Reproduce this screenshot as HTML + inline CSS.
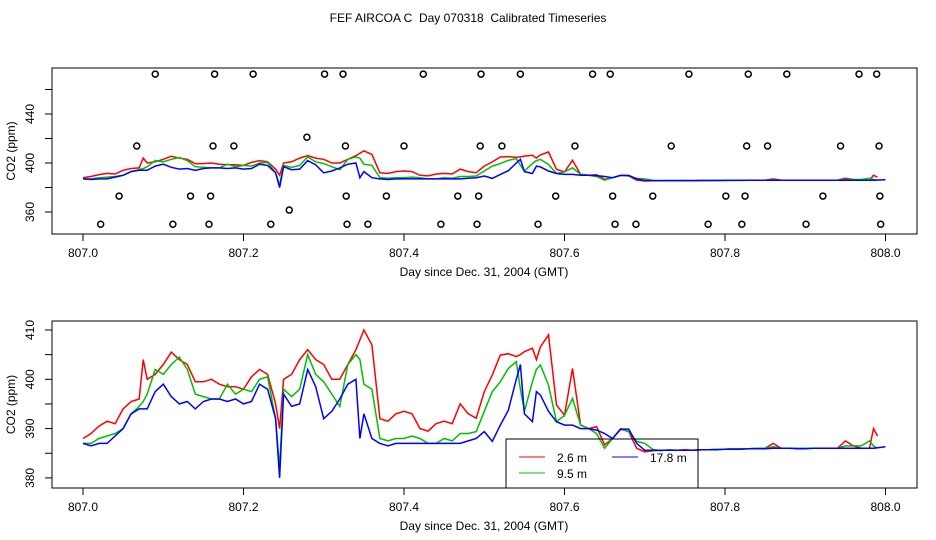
<!DOCTYPE html>
<html><head><meta charset="utf-8"><style>
body{margin:0;background:#fff;}
svg{display:block;font-family:"Liberation Sans",sans-serif;}
</style></head><body>
<svg id="chart" width="936" height="540" viewBox="0 0 936 540">
<text x="468" y="22" font-size="12" text-anchor="middle" style="white-space:pre">FEF AIRCOA C  Day 070318  Calibrated Timeseries</text>
<g id="top"></g>
<g id="bot"></g>
</svg>
<script>
const days=[807.00,807.01,807.02,807.03,807.04,807.05,807.06,807.07,807.075,807.08,807.09,807.10,807.11,807.12,807.13,807.14,807.15,807.16,807.17,807.18,807.19,807.20,807.21,807.22,807.23,807.24,807.245,807.25,807.26,807.27,807.28,807.29,807.30,807.31,807.32,807.33,807.34,807.345,807.35,807.36,807.37,807.38,807.39,807.40,807.41,807.42,807.43,807.44,807.45,807.46,807.47,807.48,807.49,807.50,807.51,807.52,807.53,807.54,807.545,807.55,807.56,807.565,807.57,807.58,807.59,807.60,807.61,807.62,807.63,807.64,807.65,807.66,807.67,807.68,807.69,807.70,807.71,807.72,807.73,807.74,807.75,807.76,807.77,807.78,807.79,807.80,807.81,807.82,807.83,807.84,807.85,807.86,807.87,807.88,807.89,807.90,807.91,807.92,807.93,807.94,807.95,807.96,807.97,807.98,807.985,807.99,808.00];
const red=[388,389,390.5,391.5,391,394,395.5,396,404,400,401,403,405.5,404,403,399.5,399.5,400,399,398.5,398.5,398,400.5,402,401,395,390,400,401,404,406,404,403,400,400,403,406,408,410,407,392,391.5,393,393.5,393,390,389.5,391,391.5,391,395,393,392.1,397.5,400.9,404.9,405.2,404.6,405,405.6,406.3,404,406.6,409,394.8,392.7,402.2,390.7,390,390.4,386.7,388,390,389.4,386,385.3,385.5,385.6,385.6,385.6,385.7,385.6,385.7,385.7,385.8,385.8,385.9,385.9,385.9,386,386,387,386,386,386,386,386,386,386,386,387.5,386.5,386,386,390,388.5,null];
const green=[387,387,388,388.5,389,390,393,394.5,395.5,397,402,401,403,404.5,402,397,396.5,396,396,399,397,398,397.5,400,400.5,392,382,398,396.5,398,405,401,399.5,397,394.5,403,405,404,399,398,388,387.5,388,388,388.5,388,387,387,388,387.5,389,389,389.4,393.5,397.5,399.5,402.2,403.6,398,393.5,399.5,402,402.9,398.8,391.4,392.7,396.1,390.7,390,389,386,388,389.9,389.4,387.4,387,385.8,385.5,385.7,385.6,385.6,385.6,385.7,385.7,385.8,385.8,385.9,385.9,385.9,386,386,386.3,386,386,386,386,386,386,386,386,386.5,386.5,386.5,387.5,386.5,386,null];
const blue=[387,386.5,387,387,388.5,390,393,394,394,394,397.5,399,396.5,395,395.5,394,395.5,396,396,395.5,396,395,395.5,399,398,392,380,397,394.5,395,402,398.5,392,393.5,396,399,400,388,393,388,387,386.5,387,387,387,387,387,387,387,387,387,387.5,388,389.4,387.4,390.7,393.7,400,403,393,391.4,397.5,396.8,393.5,391.4,390.7,390.7,390,390,389.7,389,388,389.9,389.9,387,385.6,385.6,385.6,385.6,385.6,385.6,385.6,385.7,385.7,385.7,385.8,385.8,385.8,385.9,385.9,385.9,386,386,386,385.9,385.9,386,386,386,386,386,386,386,386,386,386.1,386.3];
const flagDays=[807.090,807.164,807.212,807.301,807.324,807.424,807.496,807.545,807.635,807.657,807.755,807.829,807.877,807.967,807.989,807.067,807.162,807.188,807.327,807.400,807.495,807.522,807.613,807.733,807.827,807.853,807.944,807.992,807.279,807.045,807.134,807.159,807.328,807.378,807.467,807.493,807.589,807.660,807.710,807.801,807.825,807.922,807.993,807.022,807.112,807.157,807.234,807.329,807.355,807.446,807.491,807.567,807.663,807.689,807.779,807.821,807.901,807.994,807.257];
const flagVals=[472.6,472.6,472.6,472.6,472.6,472.6,472.6,472.6,472.6,472.6,472.6,472.6,472.6,472.6,472.6,413.9,413.9,413.9,413.9,413.9,413.9,413.9,413.9,413.9,413.9,413.9,413.9,413.9,421,373,373,373,373,373,373,373,373,373,373,373,373,373,373,350,350,350,350,350,350,350,350,350,350,350,350,350,350,350,361.6];
const xTicks=[807.0,807.2,807.4,807.6,807.8,808.0];
const xTickLabels=["807.0","807.2","807.4","807.6","807.8","808.0"];
const topYTicks=[360,380,400,420,440,460];
const topYLabels=["360","","400","","440",""];
const botYTicks=[380,385,390,395,400,405,410];
const botYLabels=["380","","390","","400","","410"];

const NS="http://www.w3.org/2000/svg";
function mk(tag,attrs,parent){const e=document.createElementNS(NS,tag);for(const k in attrs)e.setAttribute(k,attrs[k]);parent.appendChild(e);return e;}
const xs=d=>83+(d-807)*802.5;

function panel(g,box,ys,ticks,labels,prefix,withFlags){
  const r=mk('rect',{x:52,y:box[0],width:865,height:box[1]-box[0],fill:'none',stroke:'#000','stroke-width':1},g);
  
  
  xTicks.forEach((t,i)=>{
    const x=xs(t);
    const l=mk('line',{x1:x,x2:x,y1:box[1],y2:box[1]+7,stroke:'#000'},g);
    
    
    const tx=mk('text',{x:x,y:box[1]+23,'font-size':12,'text-anchor':'middle'},g);
    tx.textContent=xTickLabels[i];
    
    
  });
  const xl=mk('text',{x:484,y:box[1]+42,'font-size':12,'text-anchor':'middle'},g);
  xl.textContent='Day since Dec. 31, 2004 (GMT)';
  
  
  ticks.forEach((t,i)=>{
    const y=ys(t);
    const l=mk('line',{x1:45,x2:52,y1:y,y2:y,stroke:'#000'},g);
    
    
    if(labels[i]){
      const tx=mk('text',{x:0,y:0,'font-size':12,'text-anchor':'middle',transform:`translate(34,${y}) rotate(-90)`},g);
      tx.textContent=labels[i];
      
      
    }
  });
  const yl=mk('text',{x:0,y:0,'font-size':12,'text-anchor':'middle',transform:`translate(15,${(box[0]+box[1])/2}) rotate(-90)`},g);
  yl.textContent='CO2 (ppm)';
  
  
  [[red,'#ff0000','red'],[green,'#00c000','green'],[blue,'#0000ff','blue']].forEach(([vals,col,nm])=>{
    let p='';
    vals.forEach((v,i)=>{if(v==null)return;p+=(p?'L':'M')+xs(days[i]).toFixed(1)+','+ys(v).toFixed(1);});
    const pl=mk('path',{d:p,fill:'none',stroke:col,'stroke-width':1.5},g);
    
    
  });
  if(withFlags){
    flagDays.forEach((d,i)=>{
      const c=mk('circle',{cx:xs(d),cy:ys(flagVals[i]),r:3,fill:'none',stroke:'#000','stroke-width':1.5},g);
      
      
    });
  }
}
panel(document.getElementById('top'),[68,234],v=>163-(v-400)*1.225,topYTicks,topYLabels,'top',true);
panel(document.getElementById('bot'),[321,488],v=>330+(410-v)*4.93,botYTicks,botYLabels,'bottom',false);

const bot=document.getElementById('bot');
const lg=mk('g',{},bot);


mk('rect',{x:506,y:439,width:192,height:49,fill:'none',stroke:'#000'},lg);
[[519,457,'#ff0000','2.6 m'],[519,473,'#00c000','9.5 m'],[612,457,'#0000ff','17.8 m']].forEach(([x,y,c,t])=>{
  const l=mk('line',{x1:x,x2:x+26,y1:y,y2:y,stroke:c,'stroke-width':1},lg);
  
  
  const tx=mk('text',{x:x+38,y:y+5,'font-size':12},lg);
  tx.textContent=t;
  
  
});
</script>
</body></html>
